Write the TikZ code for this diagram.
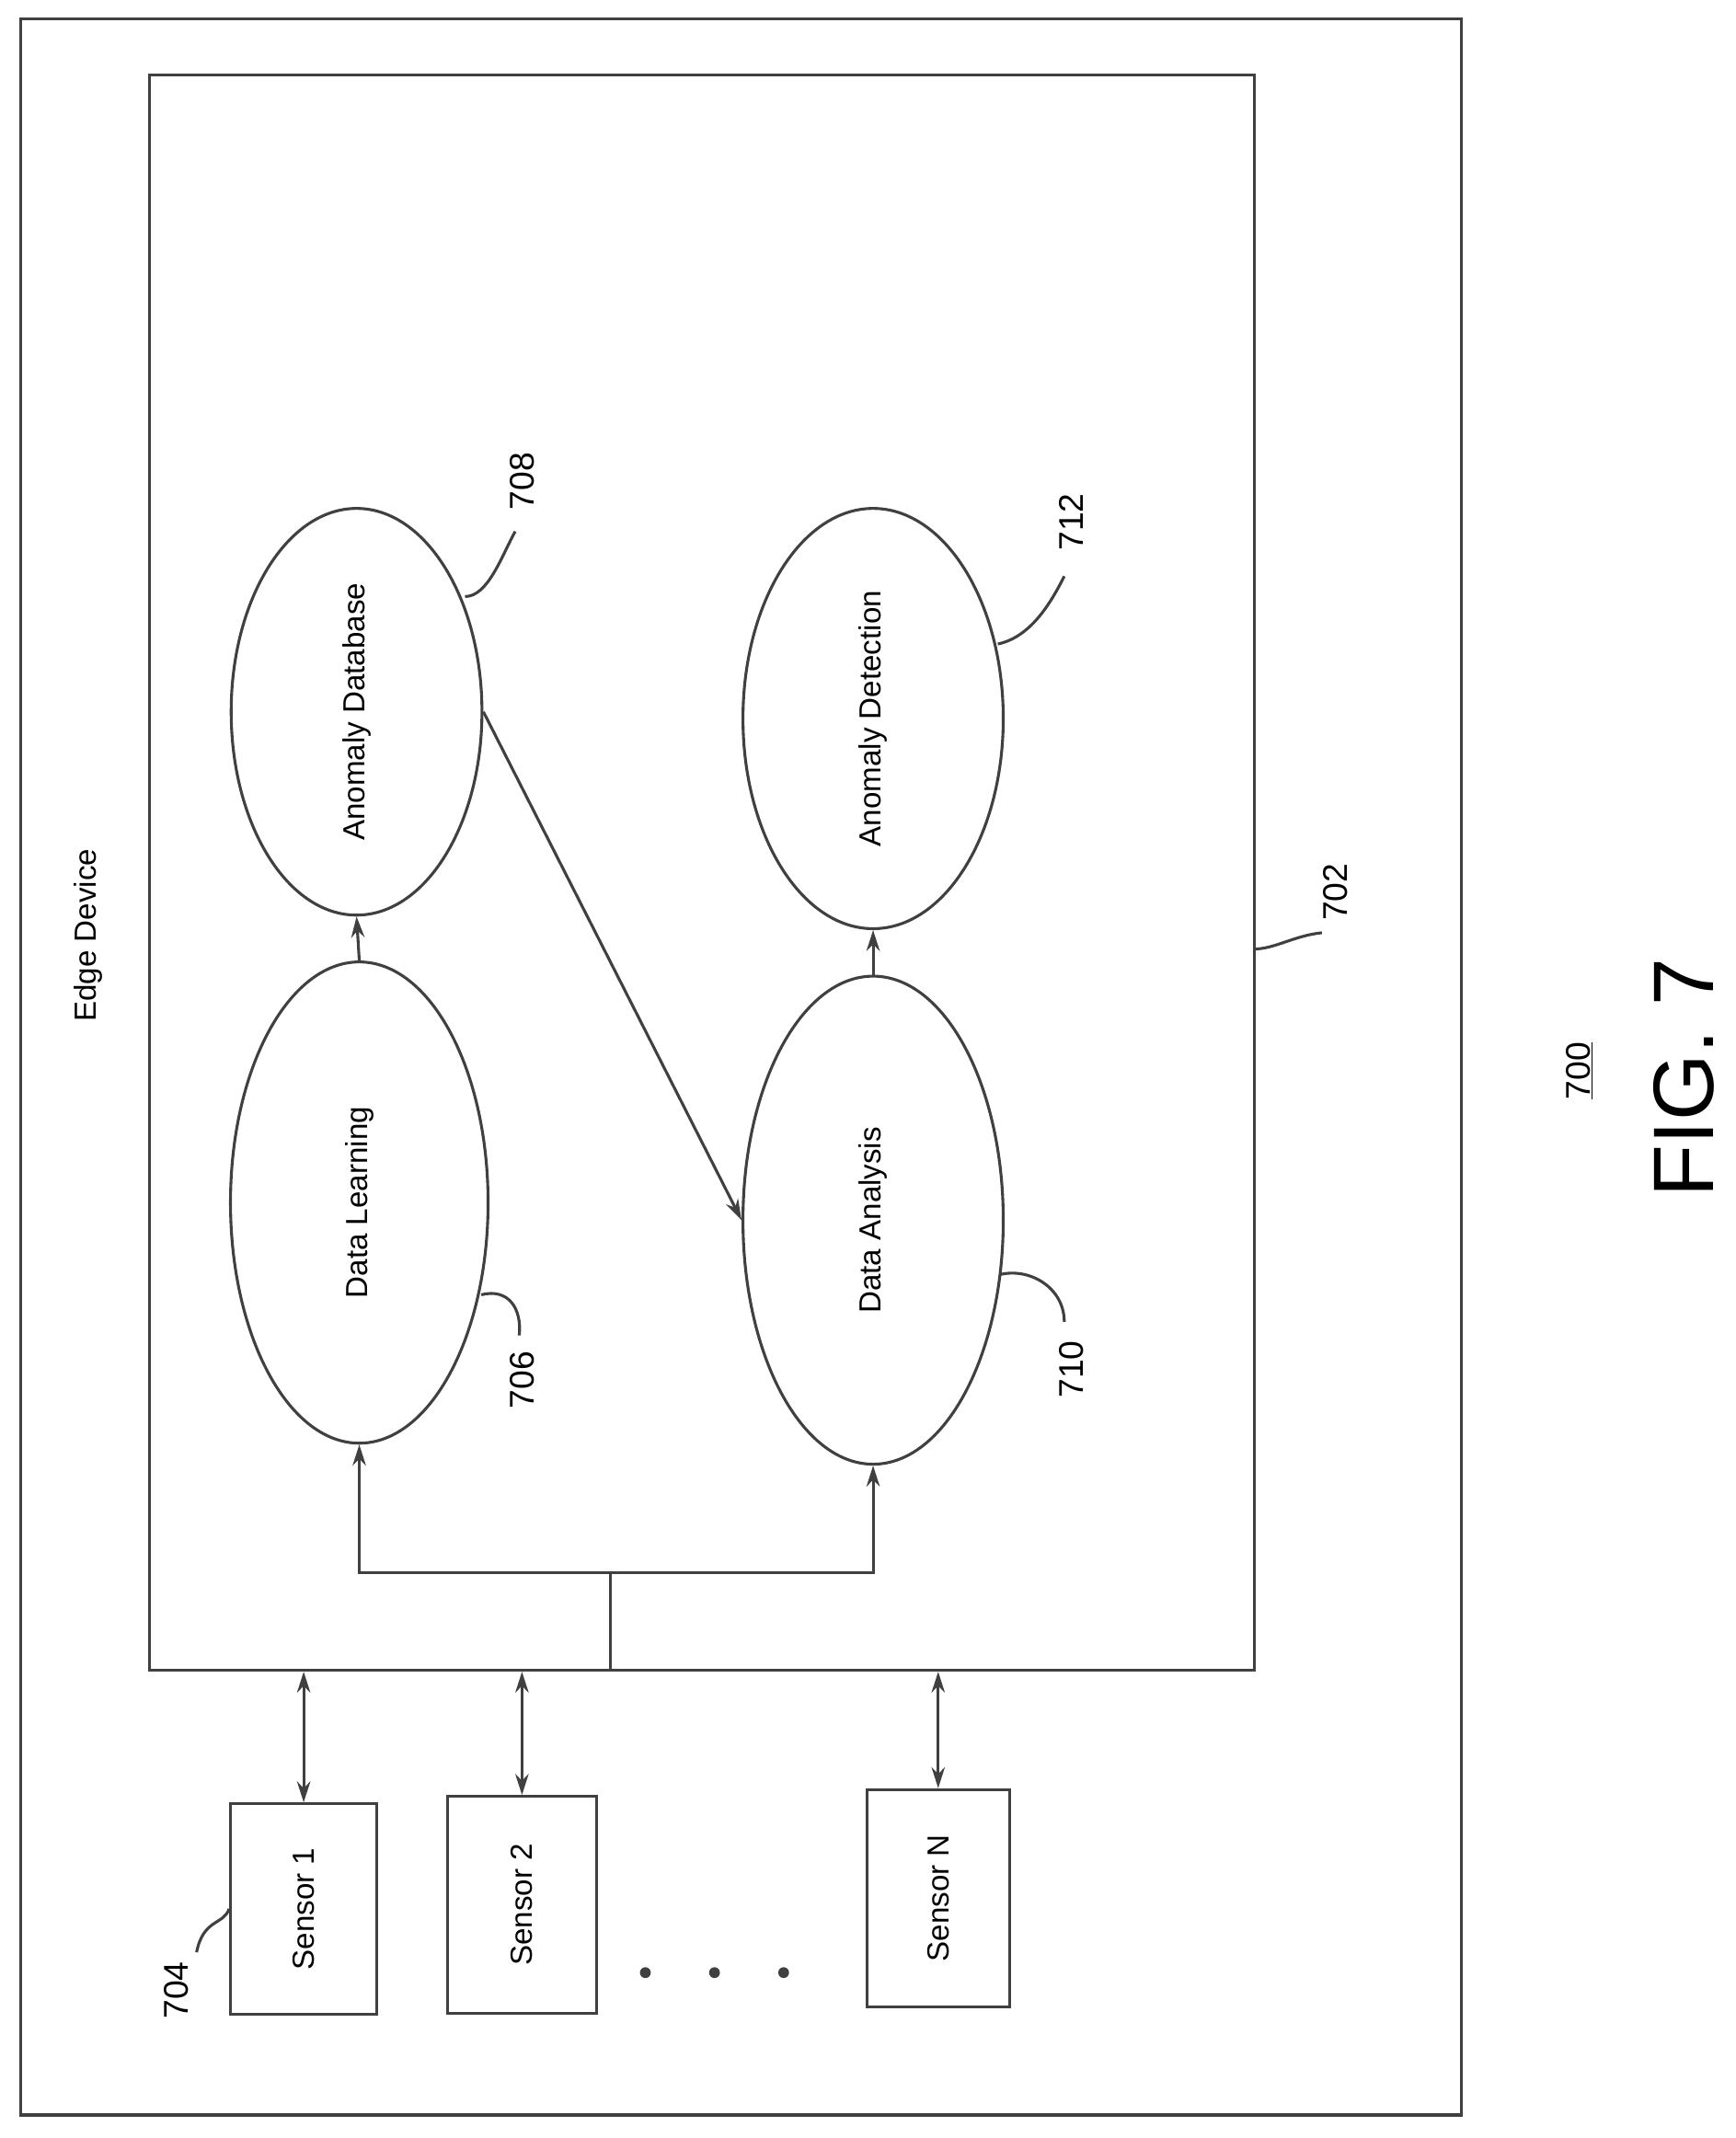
\documentclass[tikz,border=0pt]{standalone}
\usepackage{fontspec}
\setmainfont{Liberation Sans}
\usetikzlibrary{shapes.geometric,arrows.meta}
\begin{document}
\begin{tikzpicture}[x=0.05cm,y=-0.05cm,
  ln/.style={line width=3pt,draw=black!75},
  el/.style={ln,ellipse,inner sep=0pt},
  box/.style={ln,rectangle,inner sep=0pt},
  txt/.style={rotate=90,font=\fontsize{32}{38}\selectfont},
  lab/.style={rotate=90,font=\fontsize{36}{42}\selectfont},
  arr/.style={ln,-{Stealth[length=22pt,width=14pt]}},
  darr/.style={ln,{Stealth[length=22pt,width=14pt]}-{Stealth[length=22pt,width=14pt]}}]
\useasboundingbox (0,0) rectangle (1280,1577);
\draw[ln] (15,14) rectangle (1078,1560);
\node[box,minimum width=40.75cm,minimum height=58.85cm] (inner) at (517.5,643.5) {};
\node[txt] (edge) at (65,690) {Edge Device};
\node[el,minimum width=9.5cm,minimum height=17.75cm] (dl) at (265,887) {};
\node[txt] at (dl) {Data Learning};
\node[el,minimum width=9.25cm,minimum height=15cm] (adb) at (263,525) {};
\node[txt] at (adb) {Anomaly Database};
\node[el,minimum width=9.6cm,minimum height=18cm] (da) at (644,900) {};
\node[txt] at (da) {Data Analysis};
\node[el,minimum width=9.6cm,minimum height=15.5cm] (adt) at (644,530) {};
\node[txt] at (adt) {Anomaly Detection};
\draw[arr] (dl.north) -- (adb.south);
\draw[arr] (da.north) -- (adt.south);
\draw[arr] (adb.east) -- (da.west);
\coordinate (bj) at (450,1160);
\coordinate (bb) at (450,1232);
\draw[ln] (bb) -- (bj);
\draw[arr] (bj) -| (dl.south);
\draw[arr] (bj) -| (da.south);
\node[box,minimum width=5.4cm,minimum height=7.75cm] (s1) at (224,1408) {};
\node[txt] at (s1) {Sensor 1};
\node[box,minimum width=5.5cm,minimum height=8cm] (s2) at (385,1405) {};
\node[txt] at (s2) {Sensor 2};
\node[box,minimum width=5.25cm,minimum height=8cm] (sn) at (692,1400) {};
\node[txt] at (sn) {Sensor N};
\draw[darr] (s1.north) -- (s1.north |- inner.south);
\draw[darr] (s2.north) -- (s2.north |- inner.south);
\draw[darr] (sn.north) -- (sn.north |- inner.south);
\foreach \x/\n in {476/d1,527/d2,578/d3} \fill[black!75] (\x,1455) circle (4) coordinate (\n);
\node[lab] (l704) at (130,1468) {704};
\draw[ln] (145,1440) .. controls (150,1415) and (165,1420) .. (s1.west);
\node[lab] (l706) at (385,1018) {706};
\draw[ln] (355,955) .. controls (375,950) and (385,965) .. (383,985);
\node[lab] (l708) at (385,355) {708};
\draw[ln] (343,440) .. controls (360,440) and (370,410) .. (380,392);
\node[lab] (l710) at (790,1010) {710};
\draw[ln] (738,940) .. controls (760,935) and (785,950) .. (785,975);
\node[lab] (l712) at (790,385) {712};
\draw[ln] (736,475) .. controls (760,470) and (775,445) .. (785,425);
\node[lab] (l702) at (985,658) {702};
\draw[ln] (925,700) .. controls (940,700) and (955,690) .. (975,688);
\node[lab] (l700) at (1165,790) {\underline{700}};
\node[rotate=90,font=\fontsize{90}{100}\selectfont] (fig) at (1242,795) {FIG. 7};
\end{tikzpicture}
\end{document}
